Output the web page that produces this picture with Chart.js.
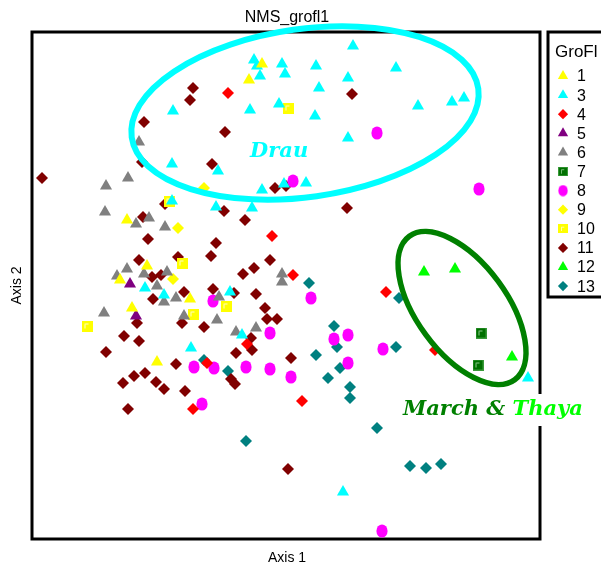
<!DOCTYPE html>
<html>
<head>
<meta charset="utf-8">
<title>NMS_grofl1</title>
<script src="https://cdn.jsdelivr.net/npm/chart.js@4/dist/chart.umd.min.js"></script>
<style>
  html, body { margin: 0; padding: 0; background: #fff; }
  #wrap { width: 601px; height: 566px; }
</style>
</head>
<body>
<div id="wrap"><canvas id="c" width="601" height="566"></canvas></div>
<script>
// NMS ordination scores (Axis 1 / Axis 2), one pair of arrays per GroFl group
const groupNames = ['1', '3', '4', '5', '6', '7', '8', '9', '10', '11', '12', '13'];

const g1X = [230, 217, 95, 115, 88, 158, 100, 125];
const g1Y = [475, 459, 319, 273, 259, 240, 231, 177];

const g3X = [321, 222, 225, 228, 250, 253, 284, 316, 287, 218, 247, 283, 316, 364, 386, 420, 432, 141, 140, 186, 230, 252, 274, 140, 184, 220, 113, 132, 198, 210, 159, 311, 496];
const g3Y = [493, 479, 473, 463, 475, 465, 473, 461, 451, 429, 435, 423, 401, 471, 433, 437, 441, 428, 375, 368, 349, 355, 356, 338, 332, 331, 251, 244, 247, 204, 191, 47, 161];

const g4X = [196, 240, 261, 215, 175, 161, 270, 354, 403];
const g4Y = [446, 303, 264, 195, 176, 130, 138, 247, 189];

const g5X = [98, 104];
const g5Y = [255, 223];

const g6X = [107, 96, 74, 73, 117, 104, 133, 95, 85, 112, 135, 125, 144, 132, 72, 152, 250, 250, 187, 185, 204, 224];
const g6Y = [397, 361, 353, 327, 321, 315, 312, 270, 263, 265, 267, 253, 241, 237, 226, 223, 265, 257, 242, 219, 207, 211];

const g7X = [449, 446];
const g7Y = [206, 174];

const g8X = [345, 447, 261, 279, 181, 238, 302, 316, 316, 351, 162, 182, 214, 238, 259, 170, 350];
const g8Y = [406, 350, 358, 241, 238, 206, 200, 204, 176, 190, 172, 171, 172, 170, 162, 135, 8];

const g9X = [172, 146, 141];
const g9Y = [351, 311, 260];

const g10X = [256, 137, 150, 55, 161, 194];
const g10Y = [431, 338, 276, 213, 225, 233];

const g11X = [161, 158, 112, 110, 10, 320, 193, 180, 243, 254, 133, 111, 116, 107, 146, 120, 129, 152, 121, 105, 150, 172, 92, 107, 74, 144, 192, 213, 315, 184, 179, 238, 222, 211, 181, 202, 224, 233, 235, 245, 219, 220, 204, 259, 91, 102, 113, 124, 132, 153, 96, 199, 203, 256];
const g11Y = [451, 439, 417, 377, 361, 445, 407, 375, 351, 353, 335, 322, 300, 279, 282, 262, 264, 247, 240, 216, 216, 212, 203, 198, 187, 175, 328, 319, 331, 296, 283, 279, 271, 265, 250, 246, 245, 231, 220, 220, 201, 189, 186, 181, 156, 163, 166, 157, 150, 148, 130, 160, 155, 70];

const g12X = [392, 423, 480];
const g12Y = [267, 270, 182];

const g13X = [277, 302, 305, 284, 308, 172, 196, 296, 318, 318, 214, 345, 378, 394, 409, 367, 364];
const g13Y = [256, 213, 192, 184, 171, 179, 168, 161, 152, 141, 98, 111, 73, 71, 75, 241, 192];

// Axis ranges of the ordination space
const axis1Range = [0, 508];
const axis2Range = [0, 507];

// Hand-drawn group outlines (centre and radii in score units, tilt in screen degrees)
const rings = [
  { cx: 273, cy: 426, rx: 175, ry: 84, tilt: -8, color: '#00FFFF', width: 6 },
  { cx: 430, cy: 231, rx: 89, ry: 45, tilt: 53.7, color: '#008000', width: 5.5 }
];

// ---- marker images ----
function squareMark(fill, edge, line) {
  const c = document.createElement('canvas');
  c.width = 11; c.height = 11;
  const g = c.getContext('2d');
  g.fillStyle = fill;
  g.fillRect(0, 0, 11, 11);
  if (edge) { g.strokeStyle = edge; g.lineWidth = 1; g.strokeRect(0.5, 0.5, 10, 10); }
  g.strokeStyle = line; g.lineWidth = 1;
  g.beginPath(); g.moveTo(3.5, 8); g.lineTo(3.5, 3.5); g.lineTo(7, 3.5); g.stroke();
  return c;
}
function ovalMark(fill) {
  const c = document.createElement('canvas');
  c.width = 12; c.height = 14;
  const g = c.getContext('2d');
  g.fillStyle = fill;
  g.beginPath(); g.ellipse(6, 7, 5.6, 6.6, 0, 0, Math.PI * 2); g.fill();
  return c;
}
const yellowSquare = squareMark('#FFFF00', null, '#FFFFC8');
const greenSquare = squareMark('#007000', '#3A9A3A', '#8CCB8C');
const magentaOval = ovalMark('#FF00FF');

const groupStyles = [
  { style: 'triangle', color: '#FFFF00', r: 7 },
  { style: 'triangle', color: '#00FFFF', r: 7 },
  { style: 'rectRot', color: '#FF0000', r: 6 },
  { style: 'triangle', color: '#800080', r: 7 },
  { style: 'triangle', color: '#808080', r: 7 },
  { style: greenSquare, color: '#007000', r: 6 },
  { style: magentaOval, color: '#FF00FF', r: 6 },
  { style: 'rectRot', color: '#FFFF00', r: 6 },
  { style: yellowSquare, color: '#FFFF00', r: 6 },
  { style: 'rectRot', color: '#800000', r: 6 },
  { style: 'triangle', color: '#00FF00', r: 7 },
  { style: 'rectRot', color: '#008080', r: 6 }
];

const groupX = [g1X, g3X, g4X, g5X, g6X, g7X, g8X, g9X, g10X, g11X, g12X, g13X];
const groupY = [g1Y, g3Y, g4Y, g5Y, g6Y, g7Y, g8Y, g9Y, g10Y, g11Y, g12Y, g13Y];

const datasets = groupNames.map((name, i) => ({
  label: name,
  data: groupX[i].map((x, k) => ({ x: x, y: groupY[i][k] })),
  pointStyle: groupStyles[i].style,
  pointRadius: groupStyles[i].r,
  backgroundColor: groupStyles[i].color,
  borderColor: groupStyles[i].color,
  borderWidth: 0,
  showLine: false
}));

const SANS = '"Liberation Sans", Arial, sans-serif';
const SERIF = '"DejaVu Serif", "Liberation Serif", serif';

function drawSymbol(ctx, st, x, y, scale) {
  const r = st.r * scale;
  ctx.save();
  ctx.fillStyle = st.color;
  ctx.beginPath();
  if (st.style === 'triangle') {
    ctx.moveTo(x, y - r);
    ctx.lineTo(x + r * Math.sin(2 * Math.PI / 3), y + r / 2);
    ctx.lineTo(x - r * Math.sin(2 * Math.PI / 3), y + r / 2);
    ctx.closePath(); ctx.fill();
  } else if (st.style === 'rectRot') {
    ctx.moveTo(x, y - r); ctx.lineTo(x + r, y); ctx.lineTo(x, y + r); ctx.lineTo(x - r, y);
    ctx.closePath(); ctx.fill();
  } else {
    const img = st.style;
    const w = img.width * scale, h = img.height * scale;
    ctx.drawImage(img, x - w / 2, y - h / 2, w, h);
  }
  ctx.restore();
}

const decor = {
  id: 'decor',
  beforeDatasetsDraw(chart) {
    const { ctx, chartArea: a } = chart;
    ctx.save();
    ctx.strokeStyle = '#000';
    ctx.lineWidth = 3;
    ctx.strokeRect(a.left, a.top, a.right - a.left, a.bottom - a.top);
    ctx.restore();
  },
  afterDatasetsDraw(chart) {
    const { ctx, chartArea: a } = chart;
    const xs = chart.scales.x, ys = chart.scales.y;
    const ux = xs.getPixelForValue(1) - xs.getPixelForValue(0);
    const uy = ys.getPixelForValue(0) - ys.getPixelForValue(1);

    // group outlines
    rings.forEach(rg => {
      ctx.save();
      ctx.strokeStyle = rg.color;
      ctx.lineWidth = rg.width;
      ctx.beginPath();
      ctx.ellipse(xs.getPixelForValue(rg.cx), ys.getPixelForValue(rg.cy),
        rg.rx * ux, rg.ry * uy, rg.tilt * Math.PI / 180, 0, Math.PI * 2);
      ctx.stroke();
      ctx.restore();
    });

    // group captions
    ctx.save();
    ctx.font = 'bold italic 21px ' + SERIF;
    ctx.textBaseline = 'middle';
    ctx.textAlign = 'left';
    ctx.fillStyle = '#00FFFF';
    ctx.fillText('Drau', xs.getPixelForValue(218), ys.getPixelForValue(387));

    const mx = xs.getPixelForValue(371), my = ys.getPixelForValue(129);
    const w1 = ctx.measureText('March & ').width;
    const w2 = ctx.measureText('Thaya').width;
    ctx.fillStyle = '#fff';
    ctx.fillRect(mx - 3, my - 16, w1 + w2 + 6, 32);
    ctx.fillStyle = '#008000';
    ctx.fillText('March & ', mx, my);
    ctx.fillStyle = '#00FF00';
    ctx.fillText('Thaya', mx + w1, my);
    ctx.restore();

    // title and axis captions
    ctx.save();
    ctx.fillStyle = '#000';
    ctx.textAlign = 'center';
    ctx.textBaseline = 'middle';
    ctx.font = '16px ' + SANS;
    ctx.fillText('NMS_grofl1', (a.left + a.right) / 2 + 1, 18);
    ctx.font = '14px ' + SANS;
    ctx.fillText('Axis 1', (a.left + a.right) / 2 + 1, 558);
    ctx.translate(17, (a.top + a.bottom) / 2);
    ctx.rotate(-Math.PI / 2);
    ctx.fillText('Axis 2', 0, 0);
    ctx.restore();

    // legend box
    ctx.save();
    ctx.strokeStyle = '#000';
    ctx.lineWidth = 3;
    ctx.strokeRect(548, 32, 80, 265);
    ctx.fillStyle = '#000';
    ctx.textBaseline = 'middle';
    ctx.textAlign = 'left';
    ctx.font = '17px ' + SANS;
    ctx.fillText('GroFl', 555, 52);
    ctx.font = '16px ' + SANS;
    groupNames.forEach((name, i) => {
      const y = 76 + i * 19.1;
      drawSymbol(ctx, groupStyles[i], 563, y, 0.85);
      ctx.fillStyle = '#000';
      ctx.fillText(name, 577, y + 1);
    });
    ctx.restore();
  }
};

new Chart(document.getElementById('c'), {
  type: 'scatter',
  data: { datasets: datasets },
  options: {
    responsive: false,
    animation: false,
    devicePixelRatio: 1,
    layout: { padding: { left: 32, top: 32, right: 61, bottom: 27 } },
    scales: {
      x: { type: 'linear', min: axis1Range[0], max: axis1Range[1], display: false },
      y: { type: 'linear', min: axis2Range[0], max: axis2Range[1], display: false }
    },
    plugins: {
      legend: { display: false },
      tooltip: { enabled: false },
      title: { display: false }
    }
  },
  plugins: [decor]
});
</script>
</body>
</html>
